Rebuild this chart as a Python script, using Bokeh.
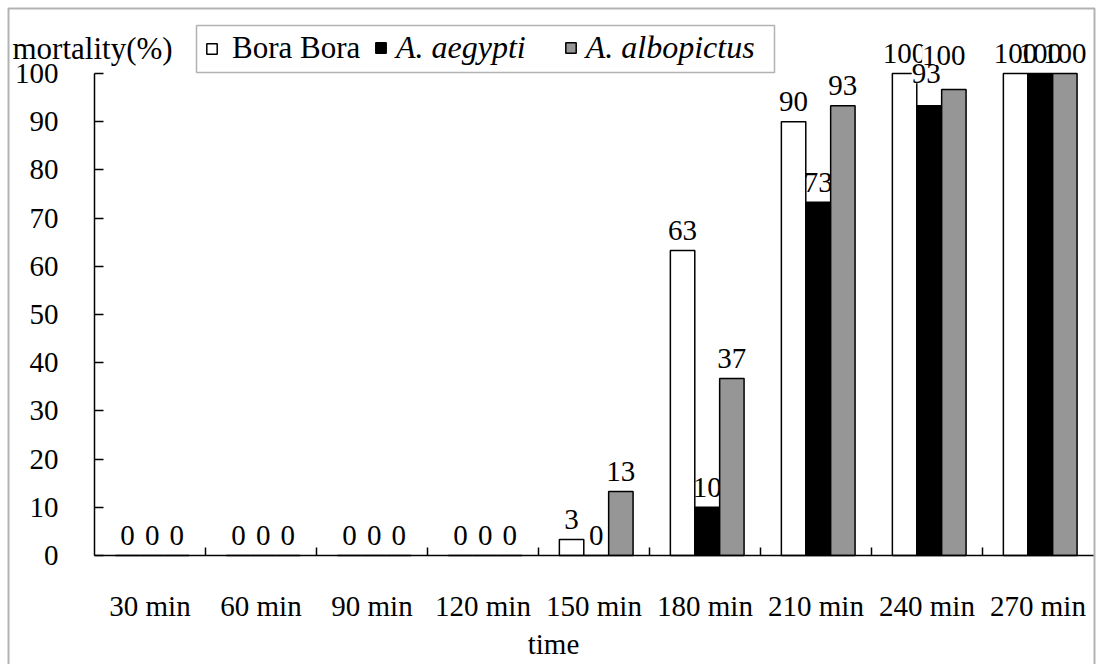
from bokeh.plotting import figure
from bokeh.models import (FixedTicker, Legend, LegendItem, BoxAnnotation, Label,
                          ColumnDataSource, Range1d)
from bokeh.core.properties import value
from bokeh.embed import file_html
from bokeh.resources import INLINE

categories = ["30 min", "60 min", "90 min", "120 min", "150 min",
              "180 min", "210 min", "240 min", "270 min"]
bora_bora = [0, 0, 0, 0, 3.3, 63.3, 90, 100, 100]
aegypti = [0, 0, 0, 0, 0, 10, 73.3, 93.3, 100]
albopictus = [0, 0, 0, 0, 13.3, 36.7, 93.3, 96.7, 100]
bora_labels = ["0", "0", "0", "0", "3", "63", "90", "100", "100"]
aegypti_labels = ["0", "0", "0", "0", "0", "10", "73", "93", "100"]
albopictus_labels = ["0", "0", "0", "0", "13", "37", "93", "100", "100"]
y_ticks = [0, 10, 20, 30, 40, 50, 60, 70, 80, 90, 100]
y_max = 100

FONT = "Liberation Serif, Times New Roman, serif"
FS = "29px"

# page layout (pixels)
W, H = 1097, 664
AX_L, AX_R, AX_B, AX_T = 94, 1093, 555, 73
n = len(categories)
ppx = (AX_R - AX_L) / n
ppy = (AX_B - AX_T) / y_max

p = figure(width=W, height=H,
           x_range=Range1d(-AX_L / ppx, n + (W - AX_R) / ppx),
           y_range=Range1d(-(H - AX_B) / ppy, AX_B / ppy),
           output_backend="svg", toolbar_location=None,
           min_border=0, min_border_left=0, min_border_right=0,
           min_border_top=0, min_border_bottom=0)
p.xgrid.visible = False
p.ygrid.visible = False
p.outline_line_color = None
p.background_fill_color = "white"
p.border_fill_color = "white"

centers = [i + 0.5 for i in range(n)]
xa = p.xaxis[0]
xa.fixed_location = 0
xa.bounds = (0, n)
xa.ticker = FixedTicker(ticks=centers, minor_ticks=list(range(1, n)))
xa.major_label_overrides = {c: cat for c, cat in zip(centers, categories)}
xa.major_tick_line_color = None
xa.minor_tick_in = 8
xa.minor_tick_out = 0
xa.minor_tick_line_width = 1.5
xa.minor_tick_line_color = "black"
xa.axis_line_width = 1.5
xa.axis_line_color = "black"
xa.major_label_text_font = FONT
xa.major_label_text_font_size = FS
xa.major_label_text_color = "black"
xa.major_label_standoff = 28

ya = p.yaxis[0]
ya.fixed_location = 0
ya.bounds = (0, y_max)
ya.ticker = FixedTicker(ticks=y_ticks)
ya.major_tick_in = 9
ya.major_tick_out = 0
ya.major_tick_line_width = 1.5
ya.major_tick_line_color = "black"
ya.minor_tick_line_color = None
ya.axis_line_width = 1.5
ya.axis_line_color = "black"
ya.major_label_text_font = FONT
ya.major_label_text_font_size = FS
ya.major_label_text_color = "black"
ya.major_label_standoff = 36

series = [("Bora Bora", bora_bora, bora_labels, "white"),
          ("A. aegypti", aegypti, aegypti_labels, "black"),
          ("A. albopictus", albopictus, albopictus_labels, "#969696")]
offsets = [-0.222, 0.0, 0.222]
shift = 0.02
bar_w = 0.22

renderers = []
for k, (name, vals, labs, color) in enumerate(series):
    xs = [c + shift + offsets[k] for c in centers]
    yoff = [-20] * len(vals)
    xoff = [0] * len(vals)
    bg = [0.0] * len(vals)
    if k == 1:
        yoff[7] = -32
        xoff[7] = -3
        bg[7] = 1.0
    if k == 2:
        xoff[7] = -10
        yoff[7] = -34
        bg[7] = 1.0
    src = ColumnDataSource(dict(x=xs, top=vals, label=labs, xo=xoff, yo=yoff, bg=bg))
    r = p.vbar(x="x", top="top", bottom=0, width=bar_w, source=src,
               fill_color=color, line_color="black", line_width=1.5)
    renderers.append(r)
    p.text(x="x", y="top", text="label", source=src, x_offset="xo", y_offset="yo",
           text_font=value(FONT), text_font_size=FS, text_color="black",
           text_align="center", text_baseline="alphabetic",
           background_fill_color="white", background_fill_alpha="bg")

common = dict(orientation="horizontal", border_line_color=None, background_fill_alpha=0,
              label_text_font=FONT, label_text_color="black",
              glyph_width=13, glyph_height=13, padding=0, margin=0)
leg1 = Legend(items=[LegendItem(label="Bora Bora", renderers=[renderers[0]])],
              location=(205, H - 66), spacing=0, label_standoff=14,
              label_text_font_size="31px", **common)
leg2 = Legend(items=[LegendItem(label="A. aegypti", renderers=[renderers[1]]),
                     LegendItem(label="A. albopictus", renderers=[renderers[2]])],
              location=(374, H - 66), spacing=38, label_standoff=9,
              label_text_font_size="32px", label_text_font_style="italic", **common)
p.add_layout(leg1)
p.add_layout(leg2)

box_units = dict(left_units="screen", right_units="screen",
                 top_units="screen", bottom_units="screen")
p.add_layout(BoxAnnotation(left=196, right=774, top=H - 25, bottom=H - 72,
                           fill_alpha=0, line_color="black", line_width=1.5, **box_units))
p.add_layout(BoxAnnotation(left=8, right=1094, top=H - 8, bottom=-20,
                           fill_alpha=0, line_color="black", line_width=2, **box_units))

p.add_layout(Label(x=12, y=H - 48, x_units="screen", y_units="screen", text="mortality(%)",
                   text_font=FONT, text_font_size="31px", text_color="black",
                   text_baseline="alphabetic"))
p.add_layout(Label(x=553, y=H - 643, x_units="screen", y_units="screen", text="time",
                   text_font=FONT, text_font_size=FS, text_color="black",
                   text_align="center", text_baseline="alphabetic"))

open("out.html", "w").write(file_html(p, INLINE))
